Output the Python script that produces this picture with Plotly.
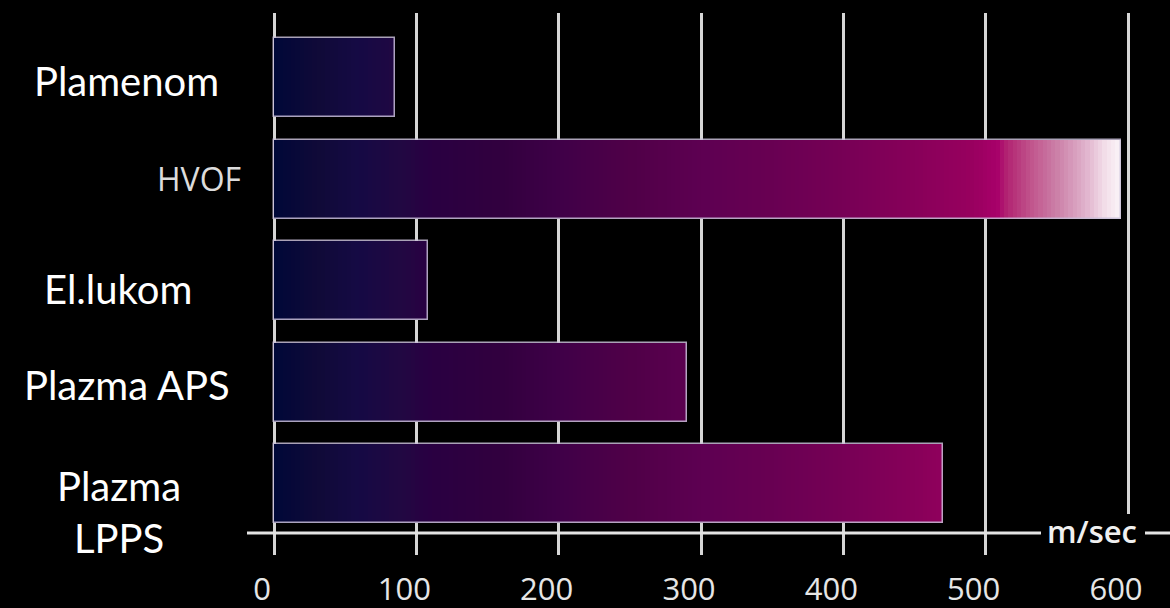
import plotly.graph_objects as go

# ---- data ----
categories = ["Plamenom", "HVOF", "El.lukom", "Plazma APS", "Plazma<br>LPPS"]
speeds = [85, 595, 108, 290, 470]          # m/sec
tick_values = [0, 100, 200, 300, 400, 500, 600]
tick_labels = ["0", "100", "200", "300", "400", "500", "600"]
unit_label = "m/sec"

# ---- style ----
W, H = 1170, 608
MT, MB = 13, 53
X_RANGE = [-192.5, 629.5]
Y_RANGE = [4.70, -0.635]
BAR_W = 0.777
STEP = 3

grad_stops = [
    (0, "#000838"), (30, "#100a38"), (60, "#160a45"), (90, "#220842"),
    (110, "#2a0042"), (160, "#32003f"), (200, "#400048"), (250, "#500048"),
    (300, "#5e0052"), (350, "#690053"), (400, "#770056"), (450, "#88005a"),
    (490, "#98005f"), (508, "#a8006a"), (515, "#b22472"), (530, "#c0508a"),
    (550, "#cc80a8"), (570, "#e0b2cc"), (585, "#f4e2ec"), (600, "#ffffff"),
]


def hex2rgb(h):
    h = h.lstrip("#")
    return tuple(int(h[i:i + 2], 16) for i in (0, 2, 4))


def grad_color(v):
    for (a, ca), (b, cb) in zip(grad_stops[:-1], grad_stops[1:]):
        if a <= v <= b:
            t = (v - a) / (b - a) if b > a else 0
            r1, g1, b1 = hex2rgb(ca)
            r2, g2, b2 = hex2rgb(cb)
            return "rgb(%d,%d,%d)" % (r1 + (r2 - r1) * t, g1 + (g2 - g1) * t, b1 + (b2 - b1) * t)
    return grad_stops[-1][1]


def pxx(p):  # pixel x -> paper x
    return p / W


def pxy(p):  # pixel y -> paper y
    return (H - MB - p) / (H - MT - MB)


# gradient segments: each segment spans from its start to the bar end
seg_y, seg_base, seg_len, seg_col = [], [], [], []
for cat, val in zip(categories, speeds):
    s = 0
    while s < val:
        mid = min(s + STEP / 2, val)
        seg_y.append(cat)
        seg_base.append(s)
        seg_len.append(val - s)
        seg_col.append(grad_color(mid))
        s += STEP

fig = go.Figure()
fig.add_trace(go.Bar(
    y=seg_y, x=seg_len, base=seg_base, orientation="h", width=BAR_W,
    marker=dict(color=seg_col, line=dict(width=0)), hoverinfo="skip", showlegend=False,
))
fig.add_trace(go.Bar(
    y=categories, x=speeds, orientation="h", width=BAR_W,
    marker=dict(color="rgba(0,0,0,0)", line=dict(color="rgba(200,190,215,0.85)", width=1.5)),
    showlegend=False, hovertemplate="%{y}: %{x} m/sec<extra></extra>",
))

# axis line and the gap behind the unit label
fig.add_shape(type="line", xref="paper", yref="paper", x0=pxx(247), x1=pxx(1170),
              y0=pxy(533), y1=pxy(533), line=dict(color="#e4e4e4", width=3), layer="above")
fig.add_shape(type="rect", xref="paper", yref="paper", x0=pxx(1041), x1=pxx(1145),
              y0=pxy(557), y1=pxy(514), fillcolor="black", line=dict(width=0), layer="above")
fig.add_annotation(text=unit_label, xref="paper", yref="paper", x=pxx(1092), y=pxy(531),
                   xanchor="center", yanchor="middle",
                   showarrow=False, font=dict(family="Open Sans", size=31, color="#f0f0f0", weight=600))

# category labels
label_pos = [(126, 81), (199, 179), (118, 289), (127, 385), (119, 512)]
for cat, (lx, ly) in zip(categories, label_pos):
    if cat == "HVOF":
        f = dict(family="Open Sans", size=32, color="#dcdcdc")
    else:
        f = dict(family="Lato", size=40, color="white")
    fig.add_annotation(text=cat, xref="paper", yref="paper", x=pxx(lx), y=pxy(ly),
                       xanchor="center", yanchor="middle",
                       showarrow=False, font=f, align="center")

fig.update_layout(
    width=W, height=H, margin=dict(l=0, r=0, t=MT, b=MB, autoexpand=False),
    paper_bgcolor="black", plot_bgcolor="black", barmode="overlay", bargap=0,
    xaxis=dict(range=X_RANGE, tickvals=tick_values, ticktext=tick_labels, automargin=False,
               showgrid=True, gridcolor="#d6d6d6", gridwidth=3, zeroline=False,
               showline=False, ticks="", ticklabelshift=-12, ticklabelstandoff=13,
               tickfont=dict(family="Open Sans", size=31, color="#e6e6e6"), fixedrange=True),
    yaxis=dict(type="category", categoryarray=categories, range=Y_RANGE, automargin=False,
               showgrid=False, zeroline=False, showticklabels=False, fixedrange=True),
)

fig.write_html("out.html", config={"displayModeBar": False},
               post_script="document.body.style.margin='0';document.body.style.background='black';")
